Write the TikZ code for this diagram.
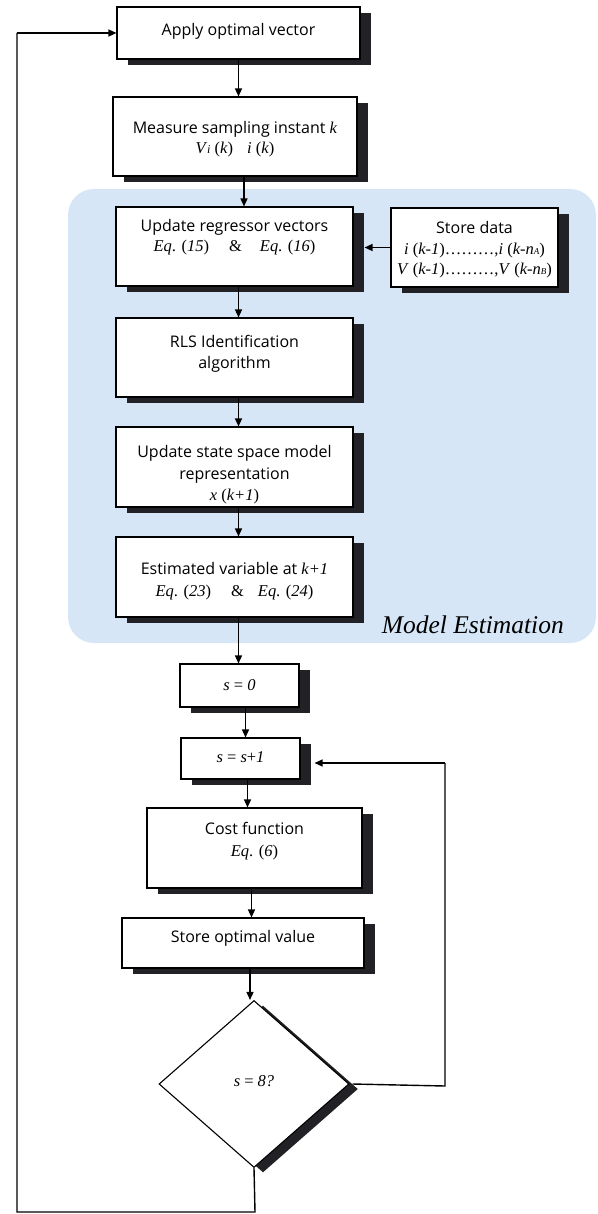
\documentclass[tikz,border=0pt]{standalone}
\usepackage{fontspec}
\setmainfont{Liberation Serif}
\setsansfont{Open Sans}
\usetikzlibrary{shapes.geometric,shadows,arrows.meta}
\definecolor{shadowc}{RGB}{34,34,38}
\definecolor{bluebg}{RGB}{214,230,246}
\tikzset{
  box/.style={draw=black, line width=1.1pt, fill=white, minimum width=#1, inner sep=0pt,
    drop shadow={shadow xshift=11pt, shadow yshift=-6pt, fill=shadowc, opacity=1}},
  txt/.style={align=center, font=\sffamily\fontsize{16}{21.5}\selectfont, inner sep=0pt},
  ser/.style={align=center, font=\rmfamily\fontsize{16.5}{21}\selectfont, inner sep=0pt},
  arr/.style={line width=1.4pt, -{Triangle[length=8pt,width=7pt]}},
  ln/.style={line width=1.4pt},
}
\newcommand{\ii}[1]{\textit{#1}}
\newcommand{\sr}{\rmfamily\fontsize{16.5}{21}\selectfont}
\begin{document}
\begin{tikzpicture}[x=1pt,y=-1pt]
\useasboundingbox (0,0) rectangle (597,1214);
% blue region
\node[fill=bluebg, rounded corners=26pt, minimum width=528pt, minimum height=454pt, inner sep=0pt] (me) at (332,416) {};
\node[anchor=base east, font=\rmfamily\itshape\fontsize{25.5}{28}\selectfont, inner sep=0pt] (melab) at (564,633) {Model Estimation};

% boxes
\node[box=243pt, minimum height=52pt] (apply) at (238.5,33) {};
\node[txt] (applyt) at (238.5,31) {Apply optimal vector};

\node[box=244pt, minimum height=79pt] (meas) at (235,136.5) {};
\node[txt] (meast) at (235,139) {Measure sampling instant {\sr\ii{k}}\\[-2pt]
 \sr\ii{V}{\fontsize{12}{14}\selectfont\ii{i}} (\ii{k})\hspace{14pt}\ii{i} (\ii{k})};

\node[box=237pt, minimum height=79pt] (upd) at (234.5,246.5) {};
\node[txt] (updt) at (234.5,237) {Update regressor vectors\\[-2pt]
 \sr\ii{Eq}. (\ii{15})\hspace{20pt}\&\hspace{18pt}\ii{Eq}. (\ii{16})};

\node[box=167pt, minimum height=79pt] (sd) at (474.5,247.5) {};
\node[txt] (sdt) at (474.5,250) {Store data\\[-1pt]
 \sr\ii{i} (\ii{k-1})\dots\dots\dots,\ii{i} (\ii{k-n}{\fontsize{9}{10}\selectfont\ii{A}})\\[-1pt]
 \sr\ii{V} (\ii{k-1})\dots\dots\dots,\ii{V} (\ii{k-n}{\fontsize{9}{10}\selectfont\ii{B}})};

\node[box=237pt, minimum height=79pt] (rls) at (234.5,357.5) {};
\node[txt] (rlst) at (234.5,354) {RLS Identification\\algorithm};

\node[box=237pt, minimum height=80pt] (ss) at (234.5,467) {};
\node[txt] (sst) at (234.5,475) {Update state space model\\representation\\
 \sr\ii{x} (\ii{k+1})};

\node[box=237pt, minimum height=80pt] (est) at (234.5,577) {};
\node[txt] (estt) at (234.5,581) {Estimated variable at {\sr\ii{k+1}}\\
 \sr\ii{Eq}. (\ii{23})\hspace{20pt}\&\hspace{14pt}\ii{Eq}. (\ii{24})};

\node[box=119pt, minimum height=43pt] (s0) at (239.5,685.5) {};
\node[ser] (s0t) at (239.5,685) {\ii{s} = \ii{0}};

\node[box=119pt, minimum height=41pt] (s1) at (240.5,758.5) {};
\node[ser] (s1t) at (240.5,757) {\ii{s} = \ii{s}+\ii{1}};

\node[box=215pt, minimum height=80pt] (cost) at (254.5,848) {};
\node[txt] (costt) at (254.5,841) {Cost function\\
 \sr\ii{Eq}. (\ii{6})};

\node[box=242pt, minimum height=50pt] (so) at (243,943) {};
\node[txt] (sot) at (243,938) {Store optimal value};

\node[draw=black, line width=1.1pt, fill=white, diamond, minimum width=190pt, minimum height=167pt, inner sep=0pt,
  drop shadow={shadow xshift=9pt, shadow yshift=-5pt, fill=shadowc, opacity=1}] (dec) at (254,1084) {};
\node[ser] (dect) at (254,1081) {\ii{s} = \ii{8?}};

% connectors
\draw[arr] (apply.south) -- (apply.south |- meas.north);
\draw[arr] ([xshift=9pt]meas.south) -- ([xshift=9pt]meas.south |- upd.north);
\draw[arr] ([xshift=4pt]upd.south) -- ([xshift=4pt]upd.south |- rls.north);
\draw[arr] ([xshift=4pt]rls.south) -- ([xshift=4pt]rls.south |- ss.north);
\draw[arr] ([xshift=4pt]ss.south) -- ([xshift=4pt]ss.south |- est.north);
\draw[arr] ([xshift=4pt]est.south) -- ([xshift=4pt]est.south |- s0.north);
\draw[arr] ([xshift=6pt]s0.south) -- ([xshift=6pt]s0.south |- s1.north);
\draw[arr] ([xshift=7pt]s1.south) -- ([xshift=7pt]s1.south |- cost.north);
\draw[arr] ([xshift=-3pt]cost.south) -- ([xshift=-3pt]cost.south |- so.north);
\draw[arr] ([xshift=7pt]so.south) -- ([xshift=7pt]so.south |- dec.north);
\draw[arr] (sd.west) -- ([xshift=11pt]upd.east |- sd.west);
\coordinate (r1) at (445,1086);
\coordinate (r2) at (445,763);
\draw[ln] ([xshift=3pt]dec.east) -- (r1) -- (r2);
\draw[arr] (r2) -- ([xshift=14pt]s1.east |- r2);
\coordinate (b1) at (255,1212);
\coordinate (b2) at (17,1212);
\coordinate (b3) at (17,33);
\draw[ln] (dec.south) -- (b1) -- (b2) -- (b3);
\draw[arr] (b3) -- (apply.west);
\end{tikzpicture}
\end{document}
